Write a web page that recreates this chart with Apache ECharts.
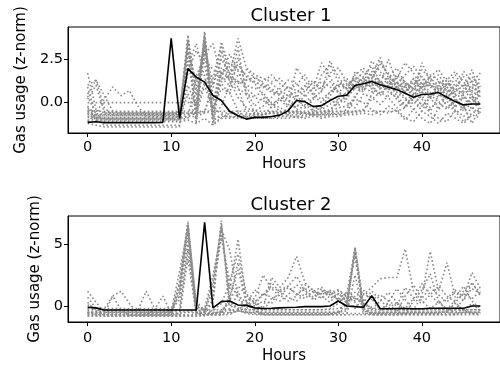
<!DOCTYPE html>
<html>
<head>
<meta charset="utf-8">
<script src="https://cdn.jsdelivr.net/npm/echarts@6/dist/echarts.min.js"></script>
<style>html,body{margin:0;padding:0;background:#fff}#c{width:500px;height:367px}</style>
</head>
<body>
<div id="c"></div>
<script>
// ---------- DATA ----------
const hours = Array.from({length: 48}, (_, i) => i);
const xTicks = [0, 10, 20, 30, 40];
const y1Ticks = [0, 2.5];
const y2Ticks = [0, 5];
const titles = ['Cluster 1', 'Cluster 2'];

const c1Centroid = [-1.14,-1.1,-1.15,-1.15,-1.15,-1.15,-1.15,-1.15,-1.15,-1.14,3.7,-0.91,1.96,1.47,1.18,0.41,0.12,-0.5,-0.76,-0.95,-0.85,-0.85,-0.8,-0.72,-0.47,0.12,0.06,-0.23,-0.17,0.12,0.37,0.43,0.99,1.09,1.22,1.03,0.89,0.75,0.54,0.31,0.47,0.5,0.58,0.31,0.06,-0.13,-0.08,-0.08];

const c1s1 = [-0.6,-0.7,-0.7,-0.7,-0.7,-0.7,-0.7,-0.7,-0.7,-0.7,-0.7,-0.6,3.8,-0.4,1.2,1.6,1.4,1.5,1.2,1.0,0.8,0.9,0.6,0.5,0.9,0.7,0.4,0.8,1.2,0.9,0.6,1.0,1.4,1.1,0.9,1.6,1.3,0.8,1.0,0.7,1.2,0.9,0.6,1.1,0.8,0.5,0.9,0.6];
const c1s2 = [-0.5,-0.9,-0.9,-0.9,-0.9,-0.9,-0.9,-0.9,-0.9,-0.9,-0.9,-0.9,-0.8,-0.6,4.1,-1.3,1.8,1.3,0.9,-0.6,-0.7,-0.7,-0.6,-0.7,-0.6,-0.5,-0.6,-0.7,-0.6,-0.6,-0.5,-0.6,0.3,1.2,1.6,2.6,1.4,1.2,0.9,0.4,1.1,0.6,0.3,0.8,0.2,-0.2,0.4,-0.1];
const c1s3 = [1.7,-0.4,-0.6,-0.6,-0.6,-0.6,-0.6,-0.6,-0.6,-0.6,-0.6,-0.6,-0.6,-0.6,-0.5,0.8,3.5,2.0,1.5,1.9,1.4,1.2,1.6,1.1,0.7,0.3,0.9,1.3,0.6,2.4,1.5,0.8,1.0,0.6,1.8,1.0,2.5,1.1,0.6,1.4,0.8,0.3,1.1,1.4,0.6,1.8,1.2,1.7];
const c1s4 = [1.0,1.3,0.4,-0.5,-0.6,-0.6,-0.6,-0.6,-0.6,-0.6,-0.6,-0.6,-0.6,-0.6,-0.6,-0.5,1.2,1.6,3.7,2.0,1.6,1.4,1.2,1.4,0.8,1.0,1.6,0.8,2.3,1.5,0.6,0.4,0.8,1.2,0.9,0.5,1.0,1.4,2.3,1.7,0.9,1.1,0.5,0.2,0.9,1.5,0.7,0.3];
const c1s5 = [0.0,0.0,0.0,0.0,0.0,0.0,0.0,0.0,0.0,0.0,0.0,0.0,0.0,0.0,3.9,-1.0,-0.8,-0.8,-0.8,-0.9,-0.8,-0.8,-0.8,-0.8,-0.8,-0.8,-0.7,-0.7,-0.7,-0.7,-0.6,-0.4,0.4,0.9,0.6,1.2,0.8,0.2,-0.3,0.5,-0.2,0.3,-0.4,0.1,-0.6,-0.3,0.2,-0.2];
const c1s6 = [-0.5,-0.5,-0.5,-0.5,-0.5,-0.5,-0.5,-0.5,-0.5,-0.5,-0.5,-0.5,-0.5,-0.5,-0.5,-0.5,-0.5,-0.5,-0.5,-0.5,-0.5,-0.5,-0.5,-0.5,-0.5,-0.5,-0.5,-0.5,-0.5,-0.5,-0.5,-0.5,-0.5,-0.5,-0.5,-0.5,-0.5,-0.5,-0.3,0.2,0.9,0.5,0.0,0.4,-0.2,0.3,-0.4,0.1];
const c1s7 = [-1.2,-1.3,-1.4,-1.4,-1.4,-1.4,-1.4,-1.4,-1.4,-1.4,-1.4,-1.4,3.5,-1.2,3.8,-1.0,-0.7,-0.8,-0.9,-0.9,-0.9,-0.9,-0.9,-0.9,-0.9,-0.8,-0.9,-0.8,-0.8,-0.7,-0.7,-0.6,-0.6,-0.5,0.5,0.8,1.0,0.6,0.2,-0.4,-0.9,-1.2,-0.3,0.4,-0.5,-1.1,-0.6,-0.4];
const c1s8 = [-0.3,-0.6,0.2,0.9,0.4,0.7,-0.2,-0.8,-0.8,-0.8,-0.8,-0.8,-0.8,-0.8,-0.6,1.4,3.3,1.6,1.2,1.3,1.2,1.0,0.7,0.4,-0.2,2.0,1.3,0.4,0.0,0.6,1.1,0.8,1.6,2.0,1.5,1.1,0.9,1.6,1.2,0.5,2.3,1.3,0.7,1.0,1.6,0.8,1.9,0.5];
const c1s9 = [-0.8,-0.9,-0.9,-0.9,-0.9,-0.9,-0.9,-0.9,-0.9,-0.9,-0.9,-0.8,3.9,0.4,3.2,0.2,1.6,2.8,1.8,0.6,-0.2,0.3,-0.3,0.1,0.5,0.2,-0.3,0.2,0.7,1.2,0.6,0.2,0.9,1.5,2.1,1.2,0.6,0.3,0.8,1.4,0.6,0.2,0.9,0.5,1.1,0.4,-0.1,0.8];
const c1s10 = [-0.7,-0.7,-0.7,-0.7,-0.7,-0.7,-0.7,-0.7,-0.7,-0.7,-0.7,-0.7,-0.7,-0.5,3.6,-0.8,-0.2,1.0,3.2,0.4,-0.6,-0.7,-0.5,-0.6,-0.4,0.4,-0.1,-0.5,-0.3,0.2,-0.2,0.5,1.1,0.7,1.3,0.8,1.2,0.4,-0.2,0.3,-0.5,0.4,0.8,-0.3,0.2,-0.4,0.5,-0.6];
const c1s11 = [-1.0,-1.0,-1.0,-1.0,-1.0,-1.0,-1.0,-1.0,-1.0,-1.0,-1.0,-1.0,-0.9,1.5,2.8,3.4,1.4,1.0,0.8,0.5,0.3,0.1,-0.1,0.2,-0.3,-0.2,0.1,-0.4,-0.2,0.4,1.0,1.4,0.8,1.0,1.2,2.4,1.6,0.9,1.2,0.8,0.5,1.3,1.6,0.9,0.4,0.7,1.0,1.4];
const c1s12 = [0.9,-0.8,-1.1,-1.1,-1.1,-1.1,-1.1,-1.1,-1.1,-1.1,-1.1,-1.1,-1.0,-1.2,-0.9,-1.3,-0.9,-0.6,-0.7,-0.8,-0.8,-0.9,-0.9,-0.8,-0.7,-0.9,-0.8,-0.7,-0.9,-0.8,-0.8,-0.7,-0.7,-0.6,-0.7,-0.5,-0.6,-0.4,-0.9,-1.1,-0.5,-0.8,-1.2,-0.6,-0.9,-1.2,-0.7,-0.9];
const c1s13 = [0.5,1.3,-0.3,-0.7,-0.7,-0.7,-0.7,-0.7,-0.7,-0.7,-0.7,-0.7,2.6,-0.7,1.0,-0.4,-0.6,-0.6,-0.6,-0.7,-0.6,-0.6,-0.6,-0.6,-0.6,-0.6,-0.6,-0.6,-0.6,-0.5,0.2,0.6,1.2,1.8,1.1,0.9,1.4,2.0,1.1,0.8,1.5,1.0,0.8,1.3,1.8,1.2,0.6,1.0];
const c1s14 = [-0.2,-1.0,-1.3,-1.3,-1.3,-1.3,-1.3,-1.3,-1.3,-1.3,-1.3,-1.3,1.8,3.0,2.2,-0.3,0.8,0.6,-0.5,-0.9,-0.9,-0.8,-0.2,0.3,0.1,-0.3,0.5,-0.2,-0.4,-0.1,0.2,0.0,-0.3,0.5,0.3,-0.1,0.4,0.8,0.3,-0.1,0.4,-0.3,0.0,-0.4,0.1,-0.2,-1.2,-0.3];
const c1s15 = [-0.4,-0.75,-0.75,-0.75,-0.75,-0.75,-0.75,-0.75,-0.75,-0.75,-0.75,-0.75,3.2,-0.8,4.0,-0.9,2.0,1.4,1.1,1.3,1.5,1.1,0.8,0.5,0.2,-0.4,-0.2,0.3,1.6,2.2,1.2,0.8,1.5,1.1,2.4,1.8,1.1,1.0,1.6,2.1,1.4,0.9,1.2,1.0,1.3,0.9,1.5,0.9];
const c1s16 = [0.2,1.0,-0.55,-0.55,-0.55,-0.55,-0.55,-0.55,-0.55,-0.55,-0.55,-0.55,3.6,0.8,3.3,1.0,2.5,1.7,2.2,1.5,1.1,0.4,0.0,-0.3,-0.5,-0.6,-0.6,-0.6,-0.5,-0.4,0.0,0.3,1.8,1.4,1.0,1.3,0.7,1.2,0.6,1.0,1.9,1.4,1.0,0.4,0.6,1.0,0.3,0.8];
const c1s17 = [-0.85,-0.85,-0.85,-0.85,-0.85,-0.85,-0.85,-0.85,-0.85,-0.85,-0.85,-0.85,2.2,3.4,1.5,-0.6,3.0,1.2,0.3,-0.3,-0.5,-0.2,0.3,0.8,1.3,1.1,0.6,1.2,0.8,1.7,2.0,1.2,0.9,1.4,0.8,0.4,1.0,1.6,0.8,0.4,0.9,1.6,1.3,0.7,-0.3,0.6,1.3,0.2];
const c1s18 = [-0.6,-1.0,-1.0,-1.0,-1.0,-1.0,-1.0,-1.0,-1.0,-1.0,-1.0,-1.0,1.0,-0.2,3.7,0.1,1.1,0.5,2.6,0.8,0.4,0.6,-0.1,-0.5,-0.7,-0.7,-0.6,-0.7,-0.7,-0.6,-0.7,-0.6,-0.5,-0.4,0.2,0.6,0.3,-0.3,0.1,0.5,0.2,-0.5,0.4,0.9,0.3,-0.5,0.0,0.4];
const c1s19 = [-1.1,-0.65,-0.65,-0.65,-0.65,-0.65,-0.65,-0.65,-0.65,-0.65,-0.65,-0.5,2.9,1.2,2.5,1.9,1.5,2.3,1.9,1.6,1.2,0.9,1.1,0.7,0.4,0.6,1.0,0.5,0.2,0.6,0.9,1.1,1.3,0.9,1.4,2.2,1.7,0.9,0.5,1.2,0.8,1.5,1.9,1.2,0.5,0.2,0.8,1.2];
const c1s20 = [0.4,-0.7,-0.95,-0.95,-0.95,-0.95,-0.95,-0.95,-0.95,-0.95,-0.95,-0.95,0.5,-1.0,3.0,-1.2,-0.9,-0.9,-0.8,-0.8,-0.7,-0.7,-0.6,-0.6,-0.6,-0.5,-0.6,-0.6,-0.5,-0.5,-0.3,-0.2,0.2,0.0,-0.4,-0.7,-0.2,-0.5,-1.0,-0.4,0.0,-0.6,-0.9,-1.1,-0.4,-0.8,-0.3,-0.7];

const c2Centroid = [-0.1,-0.15,-0.32,-0.32,-0.32,-0.32,-0.32,-0.32,-0.32,-0.32,-0.32,-0.32,-0.32,-0.32,6.75,-0.15,0.35,0.4,0.08,0.05,-0.15,-0.2,-0.18,-0.15,-0.12,-0.1,-0.05,-0.05,-0.05,0.0,0.4,0.0,-0.05,-0.1,0.83,-0.2,-0.22,-0.2,-0.2,-0.22,-0.22,-0.18,-0.18,-0.18,-0.18,-0.18,0.0,0.0];

const c2s1 = [-0.5,-0.6,-0.6,-0.6,-0.6,-0.6,-0.6,-0.6,-0.6,-0.6,-0.6,2.0,6.8,0.0,-0.4,-0.5,-0.5,-0.3,-0.4,-0.5,-0.5,-0.5,-0.5,-0.5,-0.5,-0.5,-0.5,-0.5,-0.5,-0.5,-0.5,-0.4,4.7,-0.3,-0.5,-0.6,-0.5,-0.5,-0.6,-0.5,-0.5,-0.6,-0.5,-0.5,-0.6,-0.5,-0.5,-0.5];
const c2s2 = [-0.3,-0.7,-0.7,-0.7,-0.7,-0.7,-0.7,-0.7,-0.7,-0.7,-0.7,1.2,6.5,-0.6,-0.5,0.3,6.9,-0.5,-0.4,-0.5,-0.5,-0.5,-0.5,-0.5,-0.5,-0.5,-0.5,-0.5,-0.5,-0.5,-0.5,-0.2,4.5,-0.4,-0.6,-0.6,-0.6,-0.6,-0.6,-0.6,-0.6,-0.6,-0.6,-0.6,-0.6,-0.6,-0.6,-0.6];
const c2s3 = [1.2,0.3,-0.5,-0.5,-0.5,-0.5,-0.5,-0.5,-0.5,-0.5,-0.5,1.8,6.0,-0.5,-0.2,2.5,5.8,1.3,5.4,0.4,0.6,2.5,1.4,0.8,1.5,1.0,0.6,1.2,0.9,1.3,0.4,0.7,1.1,0.5,-0.3,-0.5,-0.5,-0.5,-0.5,-0.5,-0.5,-0.5,-0.5,-0.5,0.3,-0.4,-0.5,-0.5];
const c2s4 = [-0.6,-0.6,-0.6,0.8,1.2,0.2,-0.6,-0.6,-0.6,-0.6,-0.6,-0.6,-0.5,-0.6,-0.5,-0.6,-0.4,0.3,-0.2,0.1,0.5,-0.2,2.3,1.5,2.3,4.0,1.9,1.2,1.5,0.9,1.2,0.8,0.3,-0.2,-0.5,-0.5,-0.5,-0.5,-0.5,-0.5,-0.5,-0.5,-0.5,-0.5,-0.5,-0.5,-0.5,-0.5];
const c2s5 = [-0.2,-0.4,-0.4,-0.4,-0.4,-0.4,-0.4,1.2,-0.2,-0.4,-0.4,-0.4,-0.4,-0.4,-0.3,-0.4,0.2,1.8,0.8,0.3,0.0,0.4,0.2,1.3,1.6,0.9,1.4,1.1,1.0,1.2,0.6,0.3,-0.2,0.9,1.5,2.2,2.3,2.3,4.6,1.2,0.4,-0.2,0.3,-0.3,-0.5,-0.3,0.2,-0.4];
const c2s6 = [-0.5,-0.7,-0.7,-0.7,-0.7,-0.7,-0.7,-0.7,-0.3,0.8,-0.6,-0.7,-0.7,-0.7,-0.7,-0.6,-0.5,-0.6,-0.4,-0.5,-0.6,-0.6,-0.6,-0.6,-0.6,-0.6,-0.6,-0.6,-0.6,-0.6,-0.6,-0.6,-0.6,-0.6,-0.6,-0.5,0.3,1.4,0.5,-0.3,0.8,4.4,1.2,3.5,0.7,1.6,0.4,-0.2];
const c2s7 = [-0.8,-0.8,-0.8,-0.8,-0.8,-0.8,-0.8,-0.8,-0.8,-0.8,-0.8,-0.8,-0.8,-0.8,-0.7,-0.6,-0.7,0.5,1.6,0.9,0.2,-0.4,0.6,0.9,0.4,0.8,1.7,1.3,0.6,1.1,1.3,0.8,0.4,1.0,0.6,-0.3,0.2,-0.5,0.8,1.7,0.6,1.5,0.9,0.3,1.2,0.8,2.7,1.4];
const c2s8 = [-0.5,-0.5,-0.5,-0.5,-0.5,-0.5,-0.5,-0.5,-0.5,-0.5,-0.5,-0.5,-0.5,-0.5,-0.5,0.5,6.2,4.5,0.6,-0.2,0.3,1.0,0.7,0.4,0.9,1.7,1.2,0.5,0.8,0.3,1.0,0.4,0.7,0.2,-0.3,0.4,1.1,0.3,-0.2,0.6,1.8,0.9,0.2,0.6,1.3,0.4,1.9,0.8];
const c2s9 = [0.1,-0.3,-0.3,-0.3,-0.3,-0.3,-0.3,-0.3,-0.3,-0.3,-0.3,0.5,5.5,-0.2,-0.3,-0.3,-0.3,-0.3,-0.3,-0.3,-0.3,-0.3,-0.3,-0.3,-0.3,-0.3,-0.3,-0.3,-0.3,-0.3,-0.2,0.0,4.8,0.2,-0.1,-0.3,-0.3,-0.3,-0.3,-0.3,-0.3,-0.3,-0.3,-0.3,-0.3,-0.3,-0.3,-0.3];
const c2s10 = [0.7,-0.2,-0.8,-0.8,-0.8,-0.8,-0.8,-0.8,-0.8,-0.8,-0.8,-0.8,-0.8,-0.8,-0.8,-0.7,-0.6,0.8,2.9,0.4,-0.3,-0.7,-0.7,-0.7,-0.7,-0.7,-0.7,-0.7,-0.7,-0.7,-0.7,-0.7,-0.7,-0.7,-0.7,-0.7,-0.7,-0.7,-0.6,0.4,1.3,2.6,0.4,-0.3,0.5,1.2,1.8,1.1];
const c2s11 = [-0.2,-0.2,-0.2,-0.2,-0.2,-0.2,-0.2,-0.2,-0.2,-0.2,-0.2,0.8,6.7,0.1,-0.3,1.2,6.7,0.1,-0.2,-0.3,-0.3,-0.3,-0.3,-0.3,-0.3,-0.3,-0.3,-0.3,-0.3,-0.2,0.2,0.9,4.6,-0.1,-0.3,-0.3,-0.3,-0.3,-0.3,-0.3,-0.3,-0.3,-0.3,-0.3,-0.3,-0.3,-0.3,-0.3];
const c2s12 = [-0.8,-0.8,-0.8,-0.8,-0.8,-0.8,-0.8,-0.8,-0.8,-0.8,-0.8,-0.8,4.5,-0.6,-0.7,-0.7,-0.7,-0.7,-0.3,-0.6,-0.7,-0.7,-0.7,-0.7,-0.7,-0.7,-0.7,-0.7,-0.7,-0.7,-0.7,-0.7,2.5,-0.6,-0.7,-0.7,-0.7,-0.7,-0.7,-0.7,-0.7,-0.7,-0.7,-0.7,-0.7,-0.7,-0.7,-0.7];
const c2s13 = [-0.5,-0.5,-0.5,-0.5,-0.5,-0.5,-0.5,-0.5,-0.5,-0.5,-0.5,2.8,6.3,-0.4,-0.5,1.5,5.5,2.0,4.2,1.0,0.2,0.9,1.5,1.2,0.7,0.4,1.0,0.6,1.2,0.9,0.5,1.1,0.6,0.3,1.2,0.5,-0.2,0.3,-0.4,-0.5,-0.5,-0.5,-0.5,-0.5,-0.3,0.6,1.4,1.0];
const c2s14 = [-0.65,-0.65,-0.65,-0.65,-0.65,-0.65,-0.65,-0.65,-0.65,-0.65,-0.65,1.5,6.6,-0.5,-0.6,-0.6,-0.5,0.5,3.5,0.2,-0.4,-0.6,-0.6,-0.6,-0.6,-0.6,-0.6,-0.6,-0.6,-0.6,-0.6,0.3,4.3,-0.3,-0.6,-0.6,-0.6,-0.6,-0.6,-0.6,-0.6,-0.6,-0.6,-0.4,0.2,-0.3,-0.6,-0.6];
const c2s15 = [0.3,-0.45,-0.45,-0.45,-0.45,-0.45,-0.45,-0.45,-0.45,-0.45,-0.45,-0.3,5.0,0.4,-0.4,2.0,6.4,0.6,-0.3,0.2,1.3,0.8,1.9,1.1,1.6,2.4,1.3,0.7,1.4,0.6,1.0,0.4,0.8,1.3,0.5,0.9,0.4,0.0,1.5,0.6,0.2,0.9,1.6,0.8,0.3,1.0,0.6,1.2];
const c2s16 = [-0.7,-0.75,-0.2,0.8,-0.3,-0.75,-0.75,-0.75,-0.75,-0.75,-0.75,-0.6,3.8,-0.6,-0.7,-0.7,-0.7,-0.5,1.2,-0.5,-0.6,-0.7,-0.7,-0.7,-0.7,-0.7,-0.7,-0.7,-0.7,-0.7,-0.4,0.5,4.0,-0.2,-0.7,-0.7,-0.7,-0.7,-0.7,-0.7,-0.7,-0.7,-0.7,-0.7,-0.7,-0.5,-0.6,-0.7];

const c1Members = [c1s1,c1s2,c1s3,c1s4,c1s5,c1s6,c1s7,c1s8,c1s9,c1s10,c1s11,c1s12,c1s13,c1s14,c1s15,c1s16,c1s17,c1s18,c1s19,c1s20];
const c2Members = [c2s1,c2s2,c2s3,c2s4,c2s5,c2s6,c2s7,c2s8,c2s9,c2s10,c2s11,c2s12,c2s13,c2s14,c2s15,c2s16];

// ---------- CHART ----------
const FONT = 'DejaVu Sans';
const pair = arr => hours.map((h, i) => [h, arr[i]]);
const grayLine = (arr, gi) => ({
  type: 'line', xAxisIndex: gi, yAxisIndex: gi, data: pair(arr),
  showSymbol: false, silent: true, animation: false, z: 2,
  lineStyle: {color: '#8a8a8a', width: 1.6, type: [1.6, 2.4]}
});
const blackLine = (arr, gi) => ({
  type: 'line', xAxisIndex: gi, yAxisIndex: gi, data: pair(arr),
  showSymbol: false, silent: true, animation: false, z: 5,
  lineStyle: {color: '#000', width: 1.6}
});

const grids = [
  {left: 68, top: 27, width: 436, height: 106},
  {left: 68, top: 216, width: 436, height: 106}
].map(g => Object.assign(g, {show: true, borderColor: '#000', borderWidth: 1, backgroundColor: 'transparent'}));

const mkX = gi => ({
  type: 'value', gridIndex: gi, min: -2.35, max: 49.35,
  name: 'Hours', nameLocation: 'middle', nameGap: 24 + gi * 3,
  nameTextStyle: {fontFamily: FONT, fontSize: 15, color: '#000'},
  axisLine: {show: true, onZero: false, lineStyle: {color: '#000', width: 1}},
  axisTick: {show: true, inside: false, length: 4, customValues: xTicks, lineStyle: {color: '#000'}},
  axisLabel: {customValues: xTicks, fontFamily: FONT, fontSize: 14.5, color: '#000', margin: 7 + gi * 2},
  splitLine: {show: false}
});
const mkY = (gi, mn, mx, ticks, fmt, gap) => ({
  type: 'value', gridIndex: gi, min: mn, max: mx,
  name: 'Gas usage (z-norm)', nameLocation: 'middle', nameGap: gap, nameRotate: 90,
  nameTextStyle: {fontFamily: FONT, fontSize: 15, color: '#000'},
  axisLine: {show: true, onZero: false, lineStyle: {color: '#000', width: 1}},
  axisTick: {show: true, inside: false, length: 4, customValues: ticks, lineStyle: {color: '#000'}},
  axisLabel: {customValues: ticks, formatter: fmt, fontFamily: FONT, fontSize: 14.5, color: '#000', margin: 5},
  splitLine: {show: false}
});

const series = [];
c1Members.forEach(a => series.push(grayLine(a, 0)));
series.push(blackLine(c1Centroid, 0));
c2Members.forEach(a => series.push(grayLine(a, 1)));
series.push(blackLine(c2Centroid, 1));

const chart = echarts.init(document.getElementById('c'), null, {renderer: 'canvas'});
chart.setOption({
  backgroundColor: '#fff',
  animation: false,
  title: [
    {text: titles[0], left: 286, top: 2, textAlign: 'center', textStyle: {fontFamily: FONT, fontSize: 18, fontWeight: 'normal', color: '#000'}},
    {text: titles[1], left: 286, top: 191, textAlign: 'center', textStyle: {fontFamily: FONT, fontSize: 18, fontWeight: 'normal', color: '#000'}}
  ],
  grid: grids,
  xAxis: [mkX(0), mkX(1)],
  yAxis: [
    mkY(0, -1.75, 4.36, y1Ticks, v => v.toFixed(1), 35),
    mkY(1, -1.29, 7.26, y2Ticks, v => String(v), 19)
  ],
  series: series
});
</script>
</body>
</html>
